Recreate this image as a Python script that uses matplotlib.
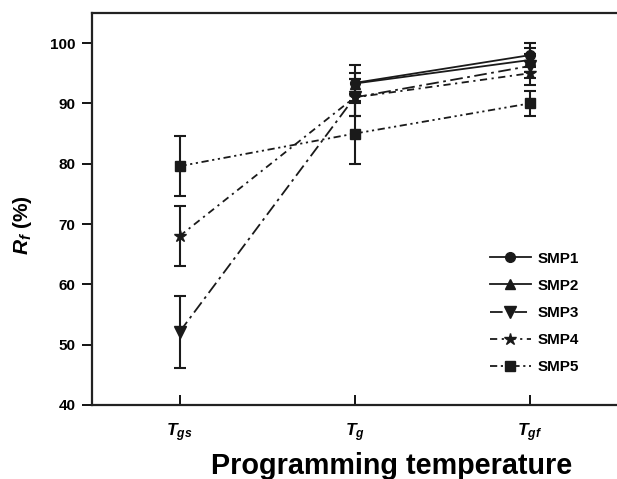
import numpy as np
import matplotlib
matplotlib.use("Agg")
import matplotlib.pyplot as plt
from matplotlib.lines import Line2D

plt.rcParams['font.family'] = ['Liberation Sans', 'DejaVu Sans']
plt.rcParams['font.weight'] = 'bold'
plt.rcParams['mathtext.fontset'] = 'custom'
plt.rcParams['mathtext.it'] = 'Liberation Sans:italic:bold'
plt.rcParams['mathtext.rm'] = 'Liberation Sans:bold'
plt.rcParams['mathtext.bf'] = 'Liberation Sans:bold'

categories = [r'$T_{gs}$', r'$T_{g}$', r'$T_{gf}$']
series = ['SMP1', 'SMP2', 'SMP3', 'SMP4', 'SMP5']
smp1 = [np.nan, 93.4, 98.0]
smp2 = [np.nan, 93.3, 97.2]
smp3 = [52.1, 91.0, 96.2]
smp4 = [68.0, 91.0, 95.0]
smp5 = [79.6, 85.0, 90.0]
err1 = [0, 3.0, 2.0]
err2 = [0, 1.8, 2.0]
err3 = [6.0, 3.0, 2.0]
err4 = [5.0, 3.0, 2.0]
err5 = [5.0, 5.0, 2.0]

values = [smp1, smp2, smp3, smp4, smp5]
errors = [err1, err2, err3, err4, err5]
markers = ['o', '^', 'v', '*', 's']
styles = ['-', '-', (0, (7, 2.5, 1.5, 2.5)), (0, (4, 2.5, 1.2, 2.5)), (0, (4, 2, 1.2, 2, 1.2, 2))]
msizes = [7, 7, 8, 9, 6.5]
color = '#1a1a1a'

fig = plt.figure(figsize=(6.17, 4.79), dpi=100)
ax = fig.add_axes([92/617, 74/479, 1 - 92/617, (405 - 13)/479])

x = np.arange(len(categories))
handles = []
for name, v, e, m, ls, ms in zip(series, values, errors, markers, styles, msizes):
    ax.errorbar(x, v, yerr=e, color=color, marker=m, markersize=ms,
                linestyle=ls, linewidth=1.3, elinewidth=1.5, capsize=4, capthick=1.5)
    handles.append(Line2D([], [], color=color, marker=m, markersize=ms,
                          linestyle=ls, linewidth=1.3, label=name))

ax.set_xlim(-0.5, 2.5)
ax.set_ylim(40, 105)
ax.set_yticks(np.arange(40, 101, 10))
ax.set_xticks(x)
ax.set_xticklabels(categories)
ax.tick_params(axis='y', direction='out', length=7, width=1.3, labelsize=11, pad=5)
ax.tick_params(axis='x', direction='in', length=7, width=1.3, labelsize=12.5, pad=12)
for lab in ax.get_yticklabels():
    lab.set_fontweight('bold')
for s in ['left', 'bottom', 'top']:
    ax.spines[s].set_linewidth(1.6)
    ax.spines[s].set_color('#222222')
ax.spines['right'].set_visible(False)

ax.set_xlabel('Programming temperature', fontsize=20.7, fontweight='bold')
ax.xaxis.set_label_coords((392 - 92) / 525, -(466 - 405) / 392)
ax.xaxis.label.set_va('center')
ax.set_ylabel(r'$R_f$ (%)', fontsize=15, fontweight='bold')
ax.yaxis.set_label_coords((23 - 92) / 525, (405 - 225) / 392)
ax.yaxis.label.set_va('center')

leg = ax.legend(handles=handles, loc='upper left', bbox_to_anchor=(482/617, 1 - 244/479),
                bbox_transform=fig.transFigure, frameon=False, fontsize=11,
                handlelength=2.7, labelspacing=0.86, borderpad=0, handletextpad=0.45)
for t in leg.get_texts():
    t.set_fontweight('bold')

fig.savefig('out.png', dpi=100)
